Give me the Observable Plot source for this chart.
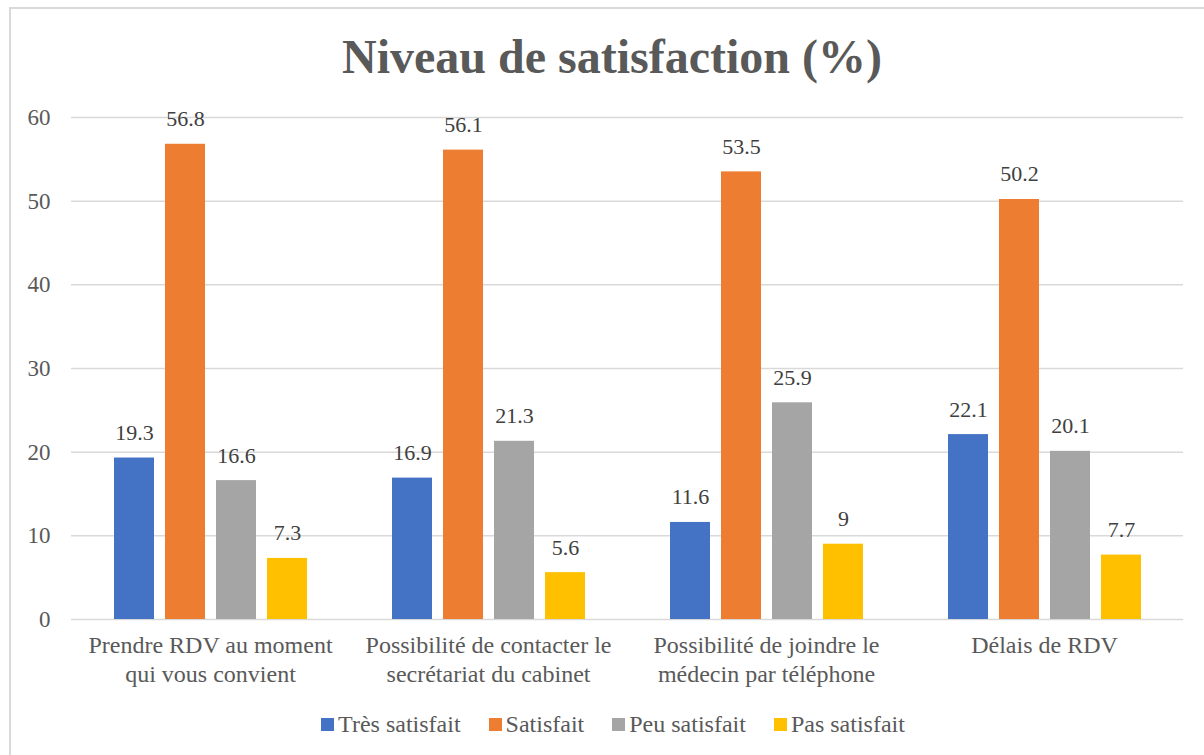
<!DOCTYPE html>
<html>
<head>
<meta charset="utf-8">
<script src="https://cdn.jsdelivr.net/npm/d3@7"></script>
<script src="https://cdn.jsdelivr.net/npm/@observablehq/plot@0.6"></script>
<style>
  html, body { margin: 0; padding: 0; background: #fff; }
  #wrap { position: relative; width: 1204px; height: 755px; overflow: hidden; font-family: "Liberation Serif", "Times New Roman", serif; }
  #border { position: absolute; left: 9px; top: 7px; width: 1300px; height: 900px; border: 2px solid #d9d9d9; box-sizing: border-box; }
  #title { position: absolute; left: 0; top: 33px; width: 1224px; text-align: center; font-family: "Liberation Serif", serif; font-size: 48px; line-height: 48px; font-weight: bold; color: #595959; }
  #chart { position: absolute; left: 0; top: 100px; }
  #legend { position: absolute; left: 0; top: 708px; width: 1226px; display: flex; justify-content: center; align-items: center; font-family: "Liberation Serif", serif; font-size: 24px; line-height: 32px; color: #595959; }
  .item { display: flex; align-items: center; margin: 0 14px; font-family: "Liberation Serif", serif; }
  .sw { width: 13px; height: 13px; margin-right: 4px; }
</style>
</head>
<body>
<div id="wrap">
  <div id="border"></div>
  <div id="title">Niveau de satisfaction (%)</div>
  <div id="chart"></div>
  <div id="legend"></div>
</div>
<script>
const categories = ["Prendre RDV", "Contacter secrétariat", "Joindre médecin", "Délais de RDV"];
const categoryLabels = [
  "Prendre RDV au moment\nqui vous convient",
  "Possibilité de contacter le\nsecrétariat du cabinet",
  "Possibilité de joindre le\nmédecin par téléphone",
  "Délais de RDV"
];
const series = ["Très satisfait", "Satisfait", "Peu satisfait", "Pas satisfait"];
const tresSatisfait = [19.3, 16.9, 11.6, 22.1];
const satisfait = [56.8, 56.1, 53.5, 50.2];
const peuSatisfait = [16.6, 21.3, 25.9, 20.1];
const pasSatisfait = [7.3, 5.6, 9, 7.7];
const colors = ["#4472C4", "#ED7D31", "#A5A5A5", "#FFC000"];
const yTicks = [0, 10, 20, 30, 40, 50, 60];

const seriesValues = [tresSatisfait, satisfait, peuSatisfait, pasSatisfait];
const data = categories.flatMap((c, i) => series.map((s, j) => ({category: c, series: s, value: seriesValues[j][i]})));
const labelOf = new Map(categories.map((c, i) => [c, categoryLabels[i]]));

const chart = Plot.plot({
  width: 1204,
  height: 604,
  marginLeft: 71,
  marginRight: 21,
  marginTop: 17,
  marginBottom: 85,
  style: {fontFamily: "'Liberation Serif', serif", fontSize: "22px", color: "#595959", background: "transparent"},
  fx: {domain: categories, padding: 0, label: null},
  x: {domain: series, paddingInner: 0.216, paddingOuter: 0.833, axis: null},
  y: {domain: [0, 60], label: null},
  color: {domain: series, range: colors},
  marks: [
    Plot.gridY(yTicks, {stroke: "#d9d9d9", strokeOpacity: 1, strokeWidth: 1.5}),
    Plot.axisY(yTicks, {tickSize: 0, tickPadding: 21, label: null, fontSize: 23, fill: "#595959"}),
    Plot.barY(data, {fx: "category", x: "series", y: "value", fill: "series"}),
    Plot.text(data, {fx: "category", x: "series", y: "value", text: d => String(d.value), dy: -18, lineAnchor: "bottom", fontSize: 22, fill: "#404040"}),
    Plot.axisFx({anchor: "bottom", tickSize: 0, tickPadding: 12, tickFormat: d => labelOf.get(d), lineHeight: 1.24, fontSize: 24, fill: "#595959", label: null})
  ]
});
document.getElementById("chart").appendChild(chart);

const legend = document.getElementById("legend");
series.forEach((s, i) => {
  const item = document.createElement("div");
  item.className = "item";
  const sw = document.createElement("div");
  sw.className = "sw";
  sw.style.background = colors[i];
  const t = document.createElement("span");
  t.textContent = s;
  item.appendChild(sw);
  item.appendChild(t);
  legend.appendChild(item);
});
</script>
</body>
</html>
